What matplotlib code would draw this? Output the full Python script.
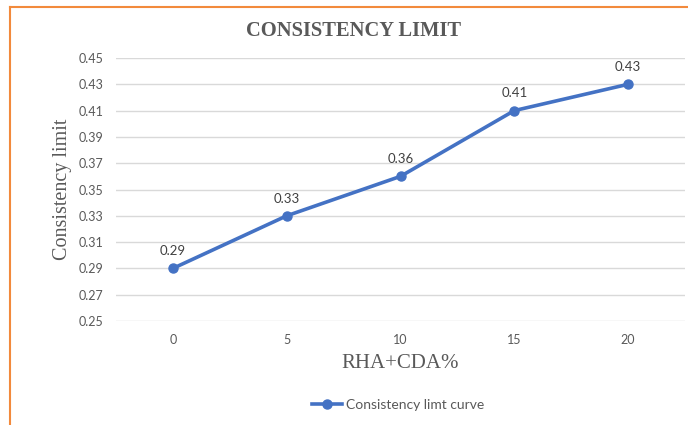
import matplotlib.pyplot as plt
from matplotlib.lines import Line2D

# chart data
categories = ['0', '5', '10', '15', '20']
limit_values = [0.29, 0.33, 0.36, 0.41, 0.43]
y_ticks = [0.25, 0.27, 0.29, 0.31, 0.33, 0.35, 0.37, 0.39, 0.41, 0.43, 0.45]

blue = '#4472C4'
grey = '#595959'

fig = plt.figure(figsize=(6.88, 4.25), dpi=100)
ax = fig.add_axes([116 / 688, 1 - 321 / 425, (685 - 116) / 688, (321 - 58) / 425])

x = list(range(len(categories)))
ax.plot(x, limit_values, color=blue, lw=2.6, marker='o', ms=6.5,
        solid_capstyle='round', zorder=3)

for xi, v in zip(x, limit_values):
    ax.annotate('{:.2f}'.format(v), (xi, v), xytext=(0, 8), textcoords='offset points',
                ha='center', va='bottom', fontsize=9.5, color='#404040', family='Lato')

ax.set_xlim(-0.5, len(categories) - 0.5)
ax.set_ylim(0.25, 0.45)
ax.set_xticks(x)
ax.set_xticklabels(categories)
ax.set_yticks(y_ticks)
ax.set_yticklabels(['{:.2f}'.format(t) for t in y_ticks])
ax.tick_params(length=0, labelsize=9, labelcolor=grey, pad=9)
for lab in ax.get_xticklabels() + ax.get_yticklabels():
    lab.set_family('Lato')

ax.grid(axis='y', color='#D9D9D9', lw=1)
ax.set_axisbelow(True)
for s in ax.spines.values():
    s.set_visible(False)

ax.set_xlabel('RHA+CDA%', family='Liberation Serif', fontsize=15, color=grey, labelpad=6)
ax.set_ylabel('Consistency limit', family='Liberation Serif', fontsize=14.5, color=grey, labelpad=5)

fig.text(354 / 688, 1 - 31 / 425, 'CONSISTENCY LIMIT',
         ha='center', va='center', family='Liberation Serif', fontweight='bold',
         fontsize=14.8, color=grey)

handle = Line2D([], [], color=blue, lw=2.6, marker='o', ms=6.5)
fig.legend([handle], ['Consistency limt curve'], loc='center', bbox_to_anchor=(398 / 688, 1 - 405 / 425),
           frameon=False, prop={'family': 'Lato', 'size': 10}, labelcolor=grey,
           handlelength=2.2, handletextpad=0.3)

# orange chart-area border (top and left edges)
border = '#F28A3C'
fig.add_artist(Line2D([10 / 688, 1], [1 - 6.5 / 425] * 2, color=border, lw=1.5))
fig.add_artist(Line2D([10 / 688] * 2, [0, 1 - 6.5 / 425], color=border, lw=1.5))

fig.savefig('out.png', dpi=100)
